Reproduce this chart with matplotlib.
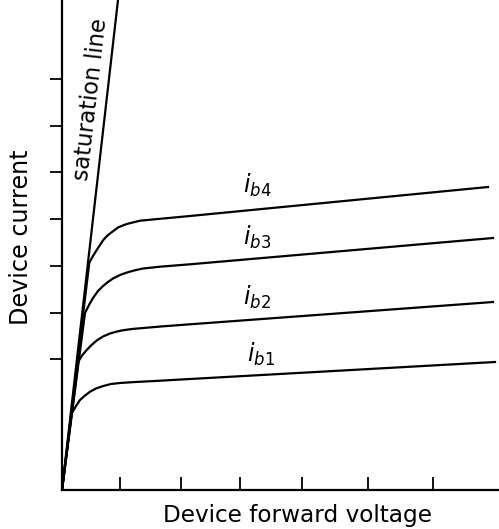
import matplotlib
matplotlib.use('Agg')
import matplotlib.pyplot as plt

plt.rcParams['font.family'] = 'DejaVu Sans'
plt.rcParams['mathtext.fontset'] = 'dejavusans'

# arbitrary units (voltage, current)
sat_v = [0, 56]
sat_i = [0, 490]

ib1_v = [0, 9.7, 14, 18, 23, 28, 34, 41.3, 49, 58, 70, 81.3, 100, 128, 433]
ib1_i = [0, 76.7, 84, 90, 94.5, 98.3, 101.5, 104, 106, 107, 107.8, 108.4, 109.4, 111, 128]

ib2_v = [0, 16.3, 20, 24.7, 29, 34.7, 41, 48, 55, 61.3, 70, 81.3, 100, 128, 431]
ib2_i = [0, 128.3, 134.5, 140, 144.5, 149.5, 153.5, 156.5, 158.5, 159.8, 161, 162, 163.6, 165.7, 188]

ib3_v = [0, 23, 27, 31, 36, 41, 46, 51, 58, 65, 72, 81, 98, 128, 431]
ib3_i = [0, 177, 185, 192, 199, 204, 208, 211.5, 215, 217.5, 219.5, 221.5, 223.3, 225.7, 252]

ib4_v = [0, 27.3, 31, 34.7, 38, 41.3, 45, 48, 52, 56.3, 64.7, 78, 98, 128, 426]
ib4_i = [0, 227.3, 234, 240, 245, 250, 254, 256.5, 259.5, 262.7, 266, 269.3, 271.2, 274, 303]

curves = [(ib1_v, ib1_i), (ib2_v, ib2_i), (ib3_v, ib3_i), (ib4_v, ib4_i)]
labels = [r'$\mathit{i_{b1}}$', r'$\mathit{i_{b2}}$', r'$\mathit{i_{b3}}$', r'$\mathit{i_{b4}}$']
label_pos = [(185, 128), (181, 185), (181, 245), (181, 297)]

xticks = [58, 119, 178, 240, 306, 371]
yticks = [131, 177, 224, 271, 318, 364, 411]

fig = plt.figure(figsize=(4.99, 5.29), dpi=100)
ax = fig.add_axes([62/499, 39/529, 436/499, 490/529])

ax.plot(sat_v, sat_i, color='black', lw=1.6, solid_capstyle='butt')
for (v, i) in curves:
    ax.plot(v, i, color='black', lw=1.6, solid_joinstyle='round')

for lab, (x, y) in zip(labels, label_pos):
    ax.text(x, y, lab, fontsize=17, ha='left', va='baseline')

ax.text(35, 390, 'saturation line', fontsize=16.3, rotation=83.5,
        rotation_mode='anchor', ha='center', va='baseline')

ax.set_xlim(0, 436)
ax.set_ylim(0, 490)

for s in ['top', 'right']:
    ax.spines[s].set_visible(False)
for s in ['left', 'bottom']:
    ax.spines[s].set_linewidth(1.6)

ax.set_xticks(xticks)
ax.set_yticks(yticks)
ax.set_xticklabels([])
ax.set_yticklabels([])
ax.tick_params(axis='x', direction='in', length=9.5, width=1.3)
ax.tick_params(axis='y', direction='out', length=8.5, width=1.3)

ax.text(0.539, -0.065, 'Device forward voltage', transform=ax.transAxes,
        fontsize=16.7, ha='center', va='baseline')
ax.text(-0.078, 0.516, 'Device current', transform=ax.transAxes,
        fontsize=17.2, rotation=90, rotation_mode='anchor',
        ha='center', va='baseline')

fig.savefig('out.png', dpi=100)
